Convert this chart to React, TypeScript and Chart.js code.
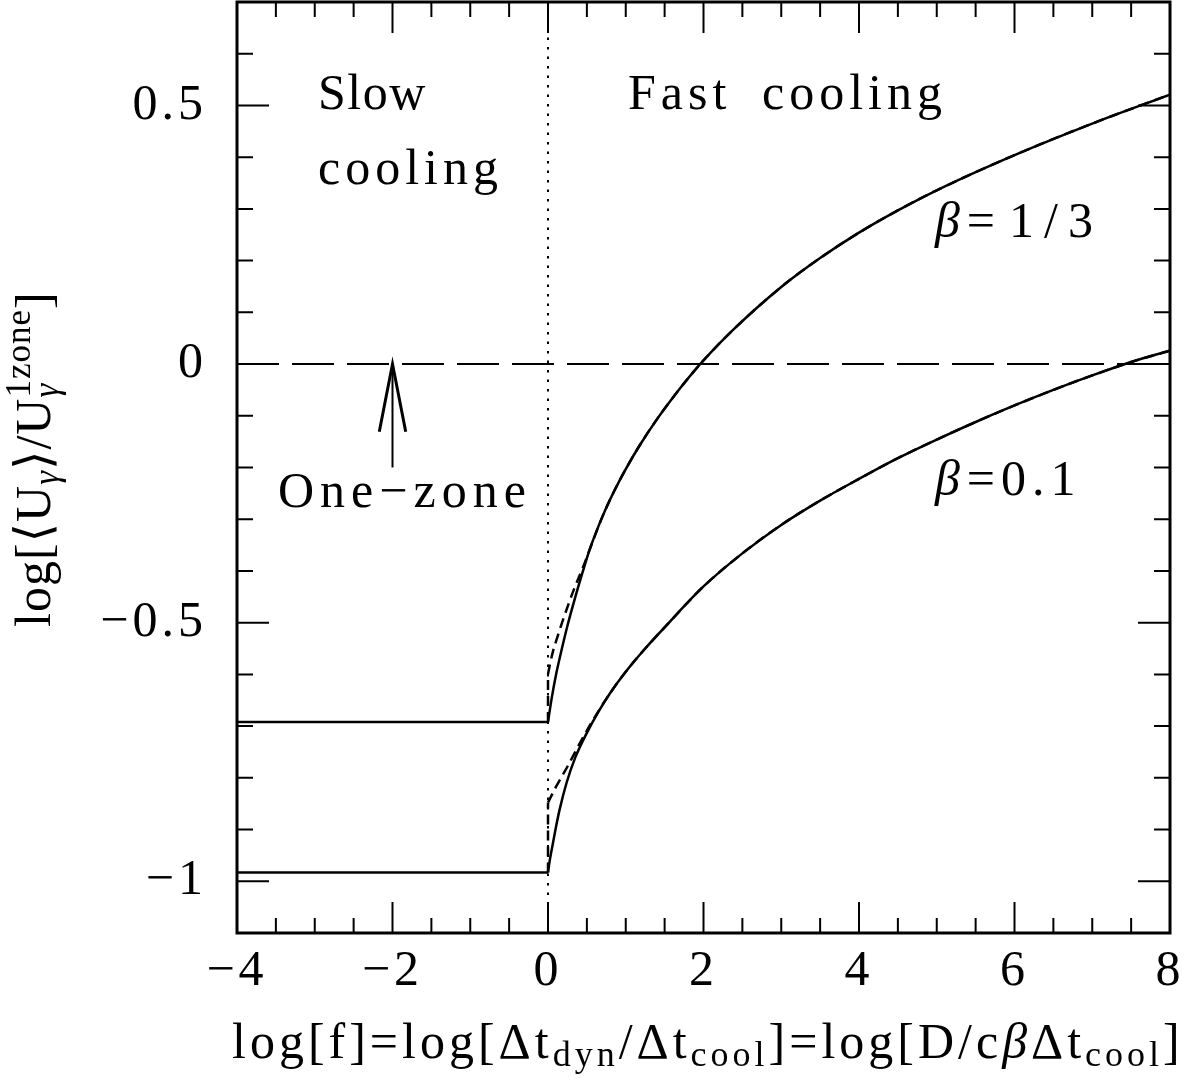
import { useEffect, useRef } from 'react';
import { Chart, registerables } from 'chart.js';

Chart.register(...registerables);

// ---------- axis ranges & ticks ----------
const X_MIN = -4;
const X_MAX = 8;
const Y_MIN = -1.1;
const Y_MAX = 0.7;
const xMajorTicks = [-4, -2, 0, 2, 4, 6, 8];
const yMajorTicks = [-1, -0.5, 0, 0.5];
const xMinorStep = 0.5;
const yMinorStep = 0.1;

// ---------- data ----------
// slow-cooling plateaus (x < 0)
const flatX = [-4, 0];
const flatY13 = [-0.692, -0.692];
const flatY01 = [-0.983, -0.983];

// beta = 1/3, solid
const solid13X = [0, 0.05, 0.1, 0.176, 0.25, 0.35, 0.45, 0.54, 0.7, 0.85, 1, 1.18, 1.4, 1.6, 1.8, 2, 2.38, 3, 3.5, 4, 4.5, 5, 6, 7, 8];
const solid13Y = [-0.692, -0.644, -0.603, -0.552, -0.506, -0.451, -0.4, -0.357, -0.295, -0.246, -0.203, -0.157, -0.107, -0.066, -0.028, 0.007, 0.066, 0.149, 0.205, 0.254, 0.297, 0.336, 0.404, 0.465, 0.521];

// beta = 1/3, dashed (jumps at x = 0)
const dashJump13Y = [-0.692, -0.6];
const dashed13X = [0, 0.03, 0.065, 0.11, 0.165, 0.25, 0.33, 0.45, 0.54, 0.7, 0.85, 1, 1.18, 1.4, 1.6, 1.8, 2, 2.38, 3, 3.5, 4, 4.5, 5, 6, 7, 8];
const dashed13Y = [-0.6, -0.577, -0.555, -0.533, -0.507, -0.47, -0.437, -0.393, -0.357, -0.295, -0.246, -0.203, -0.157, -0.107, -0.066, -0.028, 0.007, 0.066, 0.149, 0.205, 0.254, 0.297, 0.336, 0.404, 0.465, 0.521];

// beta = 0.1, solid
const solid01X = [0, 0.02, 0.05, 0.1, 0.15, 0.24, 0.35, 0.5, 0.65, 0.8, 1, 1.25, 1.5, 2, 2.5, 3, 3.5, 4, 4.5, 5, 5.5, 6, 6.5, 7, 7.5, 8];
const solid01Y = [-0.983, -0.962, -0.937, -0.897, -0.861, -0.809, -0.761, -0.713, -0.672, -0.636, -0.595, -0.55, -0.509, -0.43, -0.366, -0.311, -0.264, -0.222, -0.182, -0.146, -0.112, -0.08, -0.05, -0.022, 0.004, 0.026];

// beta = 0.1, dashed (jumps at x = 0)
const dashJump01Y = [-0.983, -0.848];
const dashed01X = [0, 0.1, 0.24, 0.41, 0.58, 0.8, 1, 1.25, 1.5, 2, 2.5, 3, 3.5, 4, 4.5, 5, 5.5, 6, 6.5, 7, 7.5, 8];
const dashed01Y = [-0.848, -0.818, -0.781, -0.733, -0.688, -0.636, -0.595, -0.55, -0.509, -0.43, -0.366, -0.311, -0.264, -0.222, -0.182, -0.146, -0.112, -0.08, -0.05, -0.022, 0.004, 0.026];

// reference lines
const oneZoneX = [-4, 8];
const oneZoneY = [0, 0];
const divideX = [0, 0];
const divideY = [-1.1, 0.7];

// arrow
const arrowShaftX = [-2, -2];
const arrowShaftY = [-0.2, 0];
const arrowHeadX = [-2.17, -2, -1.83];
const arrowHeadY = [-0.131, 0, -0.131];

const FONT = '"Liberation Serif", "DejaVu Serif", serif';

const pts = (xs: number[], ys: number[]) => xs.map((x, i) => ({ x, y: ys[i] }));

const fmt = (v: number) => {
  const r = Math.round(v * 10) / 10;
  if (r === 0) return '0';
  return (r < 0 ? '\u2212' : '') + String(Math.abs(r));
};

type Seg = { t: string; size: number; italic?: boolean; dy?: number; sp?: number; stack?: { t: string; size: number; dy: number } };

function drawRich(ctx: CanvasRenderingContext2D, segs: Seg[], x: number, y: number, spacing: number) {
  let cx = x;
  for (const s of segs) {
    ctx.font = `${s.italic ? 'italic ' : ''}${s.size}px ${FONT}`;
    (ctx as any).letterSpacing = (s.sp ?? spacing) + 'px';
    ctx.fillText(s.t, cx, y + (s.dy || 0));
    let w = ctx.measureText(s.t).width;
    if (s.stack) {
      ctx.font = `${s.stack.size}px ${FONT}`;
      ctx.fillText(s.stack.t, cx, y + s.stack.dy);
      w = Math.max(w, ctx.measureText(s.stack.t).width);
    }
    cx += w;
  }
}

const framePlugin = {
  id: 'frame',
  beforeDraw(chart: any) {
    (chart.ctx as any).letterSpacing = '4px';
  },
  afterDraw(chart: any) {
    const { ctx, chartArea: a, scales } = chart;
    const xs = scales.x;
    const ys = scales.y;
    ctx.save();
    ctx.strokeStyle = '#000';
    ctx.fillStyle = '#000';
    // frame
    ctx.lineWidth = 3;
    ctx.strokeRect(a.left, a.top, a.right - a.left, a.bottom - a.top);
    // ticks
    ctx.lineWidth = 2;
    ctx.beginPath();
    for (let v = X_MIN; v <= X_MAX + 1e-9; v += xMinorStep) {
      const major = xMajorTicks.some((m) => Math.abs(m - v) < 1e-6);
      const len = major ? 31 : 15;
      const px = xs.getPixelForValue(v);
      ctx.moveTo(px, a.bottom);
      ctx.lineTo(px, a.bottom - len);
      ctx.moveTo(px, a.top);
      ctx.lineTo(px, a.top + len);
    }
    for (let k = -11; k <= 7; k++) {
      const v = k * yMinorStep;
      const major = yMajorTicks.some((m) => Math.abs(m - v) < 1e-6);
      const len = major ? 32 : 16;
      const py = ys.getPixelForValue(v);
      ctx.moveTo(a.left, py);
      ctx.lineTo(a.left + len, py);
      ctx.moveTo(a.right, py);
      ctx.lineTo(a.right - len, py);
    }
    ctx.stroke();

    // annotations
    ctx.textBaseline = 'alphabetic';
    ctx.textAlign = 'left';
    const P = (x: number, y: number) => [xs.getPixelForValue(x), ys.getPixelForValue(y)];
    const txt = (t: string, x: number, y: number, sp = 5) => {
      const [px, py] = P(x, y);
      drawRich(ctx, [{ t, size: 50 }], px, py, sp);
    };
    txt('Slow', -2.958, 0.494, 1.5);
    txt('cooling', -2.958, 0.349);
    txt('Fast', 1.029, 0.494);
    txt('cooling', 2.752, 0.494);
    txt('One\u2212zone', -3.473, -0.276, 6);
    {
      const [px, py] = P(4.977, 0.245);
      drawRich(
        ctx,
        [
          { t: '\u03b2', size: 50, italic: true, sp: 7 },
          { t: '=', size: 50, sp: 14 },
          { t: '1/3', size: 50 },
        ],
        px,
        py,
        10,
      );
    }
    {
      const [px, py] = P(4.977, -0.253);
      drawRich(ctx, [{ t: '\u03b2', size: 50, italic: true, sp: 7 }, { t: '=0.1', size: 50 }], px, py, 6);
    }

    // x axis title
    drawRich(
      ctx,
      [
        { t: 'log[f]=log[\u0394t', size: 50 },
        { t: 'dyn', size: 36, dy: 8 },
        { t: '/\u0394t', size: 50 },
        { t: 'cool', size: 36, dy: 8 },
        { t: ']=log[D/c', size: 50 },
        { t: '\u03b2', size: 50, italic: true },
        { t: '\u0394t', size: 50 },
        { t: 'cool', size: 36, dy: 8 },
        { t: ']', size: 50 },
      ],
      232,
      1058,
      4.0,
    );

    // y axis title (rotated)
    ctx.translate(50, 627);
    ctx.rotate(-Math.PI / 2);
    drawRich(
      ctx,
      [
        { t: 'log[\u27e8U', size: 50 },
        { t: '\u03b3', size: 35, italic: true, dy: 8 },
        { t: '\u27e9/U', size: 50 },
        { t: '\u03b3', size: 35, italic: true, dy: 8, stack: { t: '1zone', size: 35, dy: -20 } },
        { t: ']', size: 50 },
      ],
      0,
      0,
      1,
    );
    ctx.restore();
  },
};

export default function App() {
  const ref = useRef<HTMLCanvasElement | null>(null);
  useEffect(() => {
    if (!ref.current) return;
    const line = (data: { x: number; y: number }[], opts: any = {}) => ({
      data,
      borderColor: '#000',
      backgroundColor: '#000',
      borderWidth: 2.5,
      pointRadius: 0,
      fill: false,
      tension: 0,
      ...opts,
    });
    const chart = new Chart(ref.current, {
      type: 'line',
      data: {
        datasets: [
          line(pts(oneZoneX, oneZoneY), { borderDash: [42, 13], borderWidth: 2 }),
          line(pts(divideX, divideY), { borderDash: [2.5, 7], borderWidth: 2 }),
          line(pts(flatX, flatY13)),
          line(pts(flatX, flatY01)),
          line(pts([0, 0], dashJump13Y), { borderDash: [10, 6] }),
          line(pts([0, 0], dashJump01Y), { borderDash: [10, 6] }),
          line(pts(dashed13X, dashed13Y), { borderDash: [10, 6], cubicInterpolationMode: 'monotone' }),
          line(pts(dashed01X, dashed01Y), { borderDash: [10, 6], cubicInterpolationMode: 'monotone' }),
          line(pts(solid13X, solid13Y), { cubicInterpolationMode: 'monotone' }),
          line(pts(solid01X, solid01Y), { cubicInterpolationMode: 'monotone' }),
          line(pts(arrowShaftX, arrowShaftY), { borderWidth: 2 }),
          line(pts(arrowHeadX, arrowHeadY), { borderWidth: 3 }),
        ] as any,
      },
      options: {
        animation: false,
        responsive: false,
        devicePixelRatio: 1,
        layout: { padding: { left: 0, right: 23, top: 2, bottom: 0 } },
        plugins: { legend: { display: false }, tooltip: { enabled: false } },
        scales: {
          x: {
            type: 'linear',
            min: X_MIN,
            max: X_MAX,
            afterFit: (s: any) => {
              s.height = 149;
              s.paddingLeft = 0;
              s.paddingRight = 0;
            },
            afterBuildTicks: (s: any) => {
              s.ticks = xMajorTicks.map((v) => ({ value: v }));
            },
            grid: { display: false, drawTicks: false },
            border: { display: false },
            ticks: {
              padding: 9,
              color: '#000',
              font: { family: FONT, size: 50 },
              maxRotation: 0,
              autoSkip: false,
              callback: (v: any) => fmt(Number(v)),
            },
          },
          y: {
            type: 'linear',
            min: Y_MIN,
            max: Y_MAX,
            afterFit: (s: any) => {
              s.width = 237;
              s.paddingTop = 0;
              s.paddingBottom = 0;
            },
            afterBuildTicks: (s: any) => {
              s.ticks = yMajorTicks.map((v) => ({ value: v }));
            },
            grid: { display: false, drawTicks: false },
            border: { display: false },
            ticks: {
              padding: 30,
              color: '#000',
              font: { family: FONT, size: 50 },
              autoSkip: false,
              callback: (v: any) => fmt(Number(v)),
            },
          },
        },
      } as any,
      plugins: [framePlugin],
    });
    return () => chart.destroy();
  }, []);
  return (
    <div style={{ position: 'absolute', left: 0, top: 0, width: 1193, height: 1082, background: '#fff' }}>
      <canvas ref={ref} width={1193} height={1082} style={{ width: 1193, height: 1082, display: 'block' }} />
    </div>
  );
}
